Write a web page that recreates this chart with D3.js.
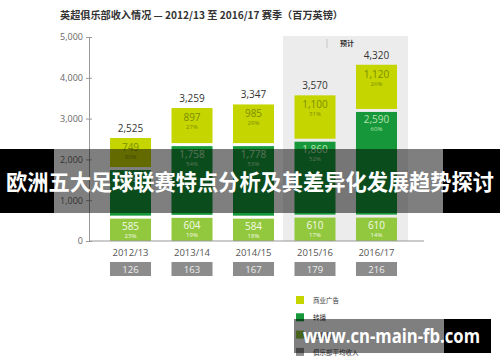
<!DOCTYPE html>
<html>
<head>
<meta charset="utf-8">
<script src="https://cdn.jsdelivr.net/npm/d3@7"></script>
<style>
  body { margin: 0; background: #fff; }
  svg { display: block; font-family: "Noto Sans CJK SC", "Open Sans", sans-serif; }
</style>
</head>
<body>
<script>
// data (million GBP)
var seasons = ["2012/13", "2013/14", "2014/15", "2015/16", "2016/17"];
var commercial = [749, 897, 985, 1100, 1120];
var broadcast = [1191, 1758, 1778, 1860, 2590];
var matchday = [585, 604, 584, 610, 610];
var commercialPct = ["30%", "27%", "29%", "31%", "26%"];
var broadcastPct = ["47%", "54%", "53%", "52%", "60%"];
var matchdayPct = ["23%", "19%", "18%", "17%", "14%"];
var totals = [2525, 3259, 3347, 3570, 4320];
var avgClub = [126, 163, 167, 179, 216];
var yTicks = [0, 1000, 2000, 3000, 4000, 5000];
var legendLabels = ["商业广告", "转播", "比赛日", "俱乐部平均收入"];

var width = 500, height = 362;
var colors = {commercial: "#c5d500", broadcast: "#16983a", matchday: "#92c83e", avg: "#8c8c8c"};

var svg = d3.select("body").append("svg")
  .attr("width", width)
  .attr("height", height);

var x = d3.scaleBand().domain(seasons).range([99.75, 407.25]).paddingInner(0.333).paddingOuter(0.1667);
var y = d3.scaleLinear().domain([0, 5000]).range([241, 37]);
var fmt = d3.format(",");

// title
svg.append("text")
  .attr("x", 60).attr("y", 19)
  .attr("font-size", 10).attr("font-weight", "bold").attr("fill", "#333")
  .attr("textLength", 283).attr("lengthAdjust", "spacingAndGlyphs")
  .text("英超俱乐部收入情况 — 2012/13 至 2016/17 赛季（百万英镑）");

// forecast panel
svg.append("rect")
  .attr("x", 283).attr("y", 36)
  .attr("width", 125).attr("height", y(0) - 36)
  .attr("fill", "#ececec");
svg.append("line")
  .attr("x1", 327).attr("x2", 327).attr("y1", 39).attr("y2", 48)
  .attr("stroke", "#c8c8c8");
svg.append("text")
  .attr("x", 340).attr("y", 46)
  .attr("font-size", 7).attr("font-weight", "bold").attr("fill", "#333")
  .text("预计");

// y axis
var yAxis = svg.append("g")
  .attr("transform", "translate(89,0)")
  .call(d3.axisLeft(y).tickValues(yTicks).tickSize(3).tickPadding(3)
    .tickFormat(function(d){ return d == 0 ? "0" : fmt(d); }));
yAxis.select(".domain").attr("stroke", "#999");
yAxis.selectAll(".tick line").attr("stroke", "#999").attr("x2", 3).attr("x1", -3);
yAxis.selectAll(".tick text").attr("fill", "#666").attr("font-size", 9)
  .attr("font-family", "Open Sans, sans-serif");

// stacked bars
var rows = seasons.map(function(s, i){
  return [
    {key: "matchday", y0: 0, y1: matchday[i], v: matchday[i], p: matchdayPct[i], s: s},
    {key: "broadcast", y0: matchday[i], y1: matchday[i] + broadcast[i], v: broadcast[i], p: broadcastPct[i], s: s},
    {key: "commercial", y0: matchday[i] + broadcast[i], y1: totals[i], v: commercial[i], p: commercialPct[i], s: s}
  ];
});
var textColor = {commercial: "#7c8e00", broadcast: "#b7e3b0", matchday: "#f2f9e6"};

rows.forEach(function(row){
  var g = svg.append("g");
  g.selectAll("rect")
    .data(row)
    .enter()
    .append("rect")
    .attr("x", function(d){ return x(d.s); })
    .attr("y", function(d){ return y(d.y1) + (d.key == "commercial" ? 0 : 1.5); })
    .attr("width", x.bandwidth())
    .attr("height", function(d){ return y(d.y0) - y(d.y1) - (d.key == "commercial" ? 1.5 : 3) + (d.key == "matchday" ? 1.5 : 0); })
    .attr("fill", function(d){ return colors[d.key]; });
  g.selectAll("text.val")
    .data(row)
    .enter()
    .append("text")
    .attr("class", "val")
    .attr("x", function(d){ return x(d.s) + x.bandwidth() / 2; })
    .attr("y", function(d){ return y(d.y1) + 13; })
    .attr("text-anchor", "middle")
    .attr("font-size", 10)
    .attr("font-family", "Open Sans, sans-serif")
    .attr("fill", function(d){ return textColor[d.key]; })
    .text(function(d){ return fmt(d.v); });
  g.selectAll("text.pct")
    .data(row)
    .enter()
    .append("text")
    .attr("class", "pct")
    .attr("x", function(d){ return x(d.s) + x.bandwidth() / 2; })
    .attr("y", function(d){ return y(d.y1) + 21; })
    .attr("text-anchor", "middle")
    .attr("font-size", 6)
    .attr("font-family", "Open Sans, sans-serif")
    .attr("fill", function(d){ return textColor[d.key]; })
    .text(function(d){ return d.p; });
});

// totals
svg.selectAll("text.total")
  .data(totals)
  .enter()
  .append("text")
  .attr("class", "total")
  .attr("x", function(d, i){ return x(seasons[i]) + x.bandwidth() / 2; })
  .attr("y", function(d){ return y(d) - 6; })
  .attr("text-anchor", "middle")
  .attr("font-size", 10)
  .attr("font-family", "Open Sans, sans-serif")
  .attr("fill", "#333")
  .text(function(d){ return fmt(d); });

// x axis line and season labels
svg.append("line")
  .attr("x1", 89).attr("x2", 424).attr("y1", y(0)).attr("y2", y(0))
  .attr("stroke", "#999");
svg.selectAll("text.season")
  .data(seasons)
  .enter()
  .append("text")
  .attr("class", "season")
  .attr("x", function(d){ return x(d) + x.bandwidth() / 2; })
  .attr("y", 256)
  .attr("text-anchor", "middle")
  .attr("font-size", 9.5)
  .attr("font-family", "Open Sans, sans-serif")
  .attr("fill", "#555")
  .text(function(d){ return d; });

// average club revenue boxes
svg.selectAll("rect.avg")
  .data(avgClub)
  .enter()
  .append("rect")
  .attr("class", "avg")
  .attr("x", function(d, i){ return x(seasons[i]); })
  .attr("y", 262)
  .attr("width", x.bandwidth())
  .attr("height", 14)
  .attr("fill", colors.avg);
svg.selectAll("text.avg")
  .data(avgClub)
  .enter()
  .append("text")
  .attr("class", "avg")
  .attr("x", function(d, i){ return x(seasons[i]) + x.bandwidth() / 2; })
  .attr("y", 272.5)
  .attr("text-anchor", "middle")
  .attr("font-size", 9.5)
  .attr("font-family", "Open Sans, sans-serif")
  .attr("fill", "#eee")
  .text(function(d){ return d; });

// legend
var legendColors = [colors.commercial, colors.broadcast, colors.matchday, colors.avg];
var legend = svg.selectAll("g.legend")
  .data(legendLabels)
  .enter()
  .append("g")
  .attr("class", "legend")
  .attr("transform", function(d, i){ return "translate(296," + (296 + i * 17.3) + ")"; });
legend.append("rect")
  .attr("width", 8).attr("height", 8)
  .attr("fill", function(d, i){ return legendColors[i]; });
legend.append("text")
  .attr("x", 17).attr("y", 7)
  .attr("font-size", 6.5)
  .attr("fill", "#333")
  .text(function(d){ return d; });

// banner overlay
svg.append("rect").attr("x", 0).attr("y", 149).attr("width", 54).attr("height", 64).attr("fill", "#000");
svg.append("rect").attr("x", 54).attr("y", 149).attr("width", 389).attr("height", 64).attr("fill", "#000").attr("opacity", 0.5);
svg.append("rect").attr("x", 443).attr("y", 149).attr("width", 57).attr("height", 64).attr("fill", "#000");
svg.append("text")
  .attr("x", 6).attr("y", 190)
  .attr("font-size", 22).attr("font-weight", "bold").attr("fill", "#fff")
  .attr("textLength", 488).attr("lengthAdjust", "spacingAndGlyphs")
  .text("欧洲五大足球联赛特点分析及其差异化发展趋势探讨");

// watermark
svg.append("rect").attr("x", 294).attr("y", 319).attr("width", 150).attr("height", 34).attr("fill", "#000").attr("opacity", 0.5);
svg.append("rect").attr("x", 444).attr("y", 319).attr("width", 47).attr("height", 34).attr("fill", "#000");
svg.append("text")
  .attr("x", 303).attr("y", 343)
  .attr("font-size", 19).attr("font-weight", "bold").attr("fill", "#fff")
  .attr("font-family", "Open Sans, sans-serif")
  .attr("textLength", 177).attr("lengthAdjust", "spacingAndGlyphs")
  .text("www.cn-main-fb.com");
</script>
</body>
</html>
